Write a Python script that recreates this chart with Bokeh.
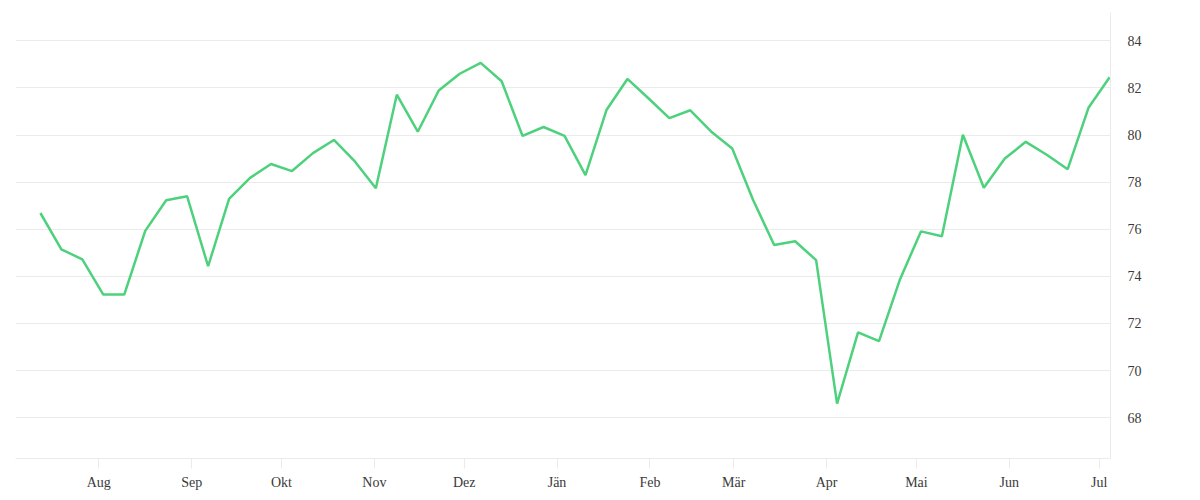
import pandas as pd
from bokeh.plotting import figure
from bokeh.models import LinearAxis, FixedTicker, Range1d, ColumnDataSource
from bokeh.embed import file_html
from bokeh.resources import INLINE

# ---- data ----
dates = pd.date_range(start="2022-07-12 12:00", periods=52, freq="7D")
values = [76.69, 75.15, 74.72, 73.23, 73.23, 75.93, 77.23, 77.40, 74.43, 77.29,
          78.18, 78.77, 78.47, 79.23, 79.79, 78.88, 77.74, 81.71, 80.14, 81.89,
          82.60, 83.06, 82.28, 79.96, 80.34, 79.96, 78.30, 81.06, 82.38, 81.56,
          80.72, 81.05, 80.14, 79.43, 77.23, 75.33, 75.49, 74.69, 68.60, 71.62,
          71.25, 73.87, 75.91, 75.70, 80.01, 77.76, 79.00, 79.71, 79.16, 78.55,
          81.17, 82.45]
month_starts = pd.date_range(start="2022-08-01", end="2023-07-01", freq="MS")
month_labels = ["Aug", "Sep", "Okt", "Nov", "Dez", "Jän", "Feb", "Mär", "Apr",
                "Mai", "Jun", "Jul"]
y_ticks = [68, 70, 72, 74, 76, 78, 80, 82, 84]

src = ColumnDataSource(dict(x=dates, y=values))

x_start = pd.Timestamp("2022-07-04 04:30")
x_end = pd.Timestamp("2023-07-04 19:00")

GRID = "#ebebeb"
TXT = "#3a3a3a"
FONT = "Liberation Serif"

p = figure(frame_width=1095, frame_height=446, output_backend="svg",
           toolbar_location=None, x_axis_type=None, y_axis_location=None,
           x_range=Range1d(x_start, x_end), y_range=Range1d(66.27, 85.2),
           min_border_left=15, min_border_top=12, min_border_right=60,
           min_border_bottom=30)
p.outline_line_color = None
p.background_fill_color = "white"
p.border_fill_color = "white"

tick_ms = [t.value / 1e6 for t in month_starts]
xaxis = LinearAxis(ticker=FixedTicker(ticks=tick_ms))
xaxis.major_label_overrides = {t: lab for t, lab in zip(tick_ms, month_labels)}
xaxis.axis_line_color = GRID
xaxis.major_tick_line_color = GRID
xaxis.major_tick_out = 10
xaxis.major_tick_in = 0
xaxis.minor_tick_line_color = None
xaxis.major_label_standoff = 6
xaxis.major_label_text_font = FONT
xaxis.major_label_text_font_size = "14px"
xaxis.major_label_text_color = TXT
p.add_layout(xaxis, "below")

yaxis = LinearAxis(ticker=FixedTicker(ticks=y_ticks))
yaxis.axis_line_color = GRID
yaxis.major_tick_line_color = None
yaxis.major_tick_out = 0
yaxis.major_tick_in = 0
yaxis.minor_tick_line_color = None
yaxis.major_label_standoff = 17
yaxis.major_label_text_font = FONT
yaxis.major_label_text_font_size = "14px"
yaxis.major_label_text_color = TXT
p.add_layout(yaxis, "right")

p.xgrid.ticker = FixedTicker(ticks=tick_ms)
p.ygrid.ticker = FixedTicker(ticks=y_ticks)
p.xgrid.grid_line_color = GRID
p.ygrid.grid_line_color = GRID
p.xgrid.grid_line_width = 1
p.ygrid.grid_line_width = 1

p.line("x", "y", source=src, line_color="#4dd17c", line_width=2.5)

open("out.html", "w").write(file_html(p, INLINE))
